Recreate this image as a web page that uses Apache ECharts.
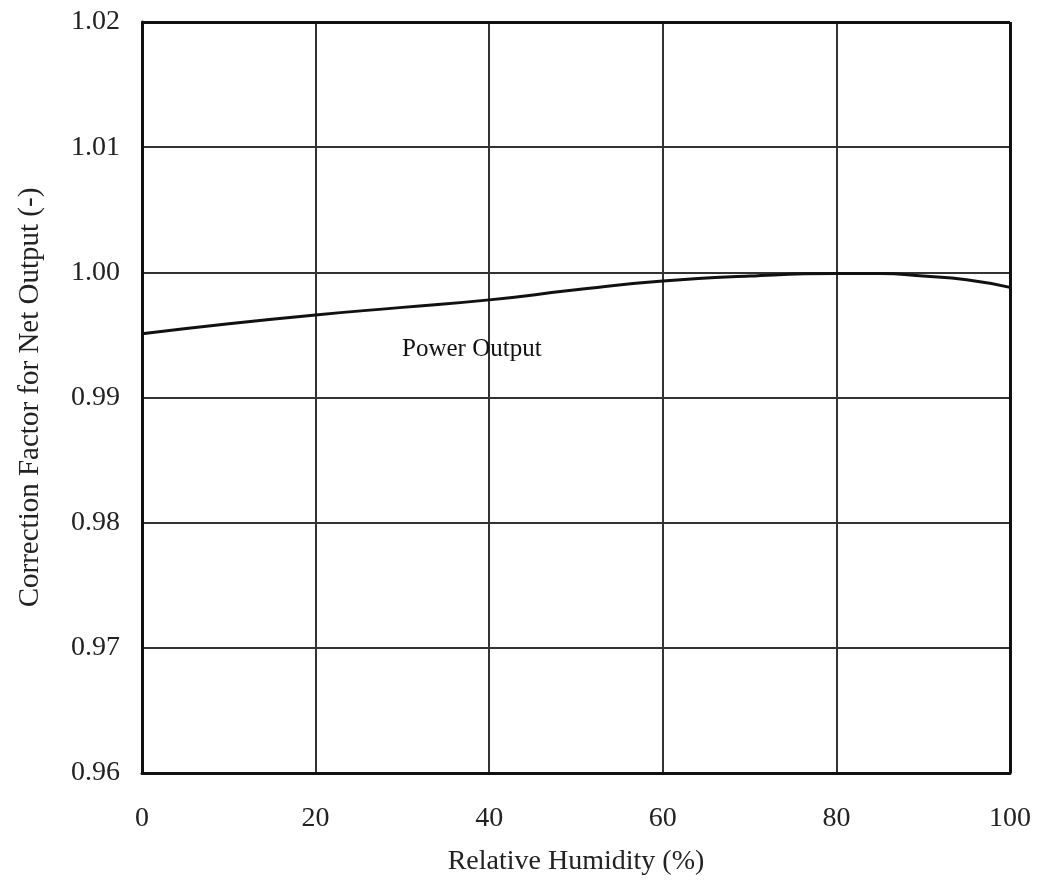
<!DOCTYPE html>
<html><head><meta charset="utf-8">
<script src="https://cdn.jsdelivr.net/npm/echarts@6/dist/echarts.min.js"></script>
<style>html,body{margin:0;padding:0;background:#fff}#c{width:1038px;height:890px}</style>
</head><body><div id="c"></div>
<script>
const humidity = [0, 10, 20, 30, 40, 50, 60, 70, 80, 85, 90, 95, 100];
const correction = [0.9951, 0.9959, 0.9966, 0.9972, 0.9978, 0.9986, 0.9993, 0.9997, 0.9999, 0.9999, 0.9997, 0.9994, 0.9988];
const xTicks = [0, 20, 40, 60, 80, 100];
const yTicks = [0.96, 0.97, 0.98, 0.99, 1.00, 1.01, 1.02];
const curveLabel = 'Power Output';
const labelPos = [38, 0.99385];

const font = '"Liberation Serif", "DejaVu Serif", serif';
const chart = echarts.init(document.getElementById('c'));
chart.setOption({
  animation: false,
  backgroundColor: '#fff',
  grid: {left: 142, right: 28, top: 22, bottom: 117},
  xAxis: {
    type: 'value', min: 0, max: 100, interval: 20,
    name: 'Relative Humidity (%)', nameLocation: 'middle', nameGap: 75,
    nameTextStyle: {fontFamily: font, fontSize: 28, color: '#222'},
    axisLine: {show: true, onZero: false, lineStyle: {color: '#111', width: 3}},
    axisTick: {show: false},
    axisLabel: {fontFamily: font, fontSize: 28, color: '#222', margin: 32,
      formatter: v => xTicks.includes(v) ? String(v) : ''},
    splitLine: {show: true, lineStyle: {color: '#333', width: 2}}
  },
  yAxis: {
    type: 'value', min: 0.96, max: 1.02, interval: 0.01,
    name: 'Correction Factor for Net Output (-)', nameLocation: 'middle', nameGap: 97,
    nameTextStyle: {fontFamily: font, fontSize: 29, color: '#222'},
    axisLine: {show: true, lineStyle: {color: '#111', width: 3}},
    axisTick: {show: false},
    axisLabel: {fontFamily: font, fontSize: 28, color: '#222', margin: 22,
      formatter: v => { const t = yTicks.find(k => Math.abs(k - v) < 1e-9); return t === undefined ? '' : t.toFixed(2); }},
    splitLine: {show: true, lineStyle: {color: '#333', width: 2}}
  },
  series: [
    {type: 'line', name: curveLabel, smooth: true, symbol: 'none',
     data: humidity.map((h, i) => [h, correction[i]]),
     lineStyle: {color: '#111', width: 3},
     markPoint: {symbol: 'circle', symbolSize: 0, silent: true,
       data: [{coord: labelPos, label: {show: true, formatter: curveLabel, position: 'inside',
         fontFamily: font, fontSize: 25, color: '#111'}}]}
    },
    {type: 'line', data: [], markLine: {silent: true, symbol: 'none', label: {show: false},
      lineStyle: {color: '#111', width: 3, type: 'solid'},
      data: [{xAxis: 100}, {yAxis: 1.02}]}}
  ]
});
</script></body></html>
